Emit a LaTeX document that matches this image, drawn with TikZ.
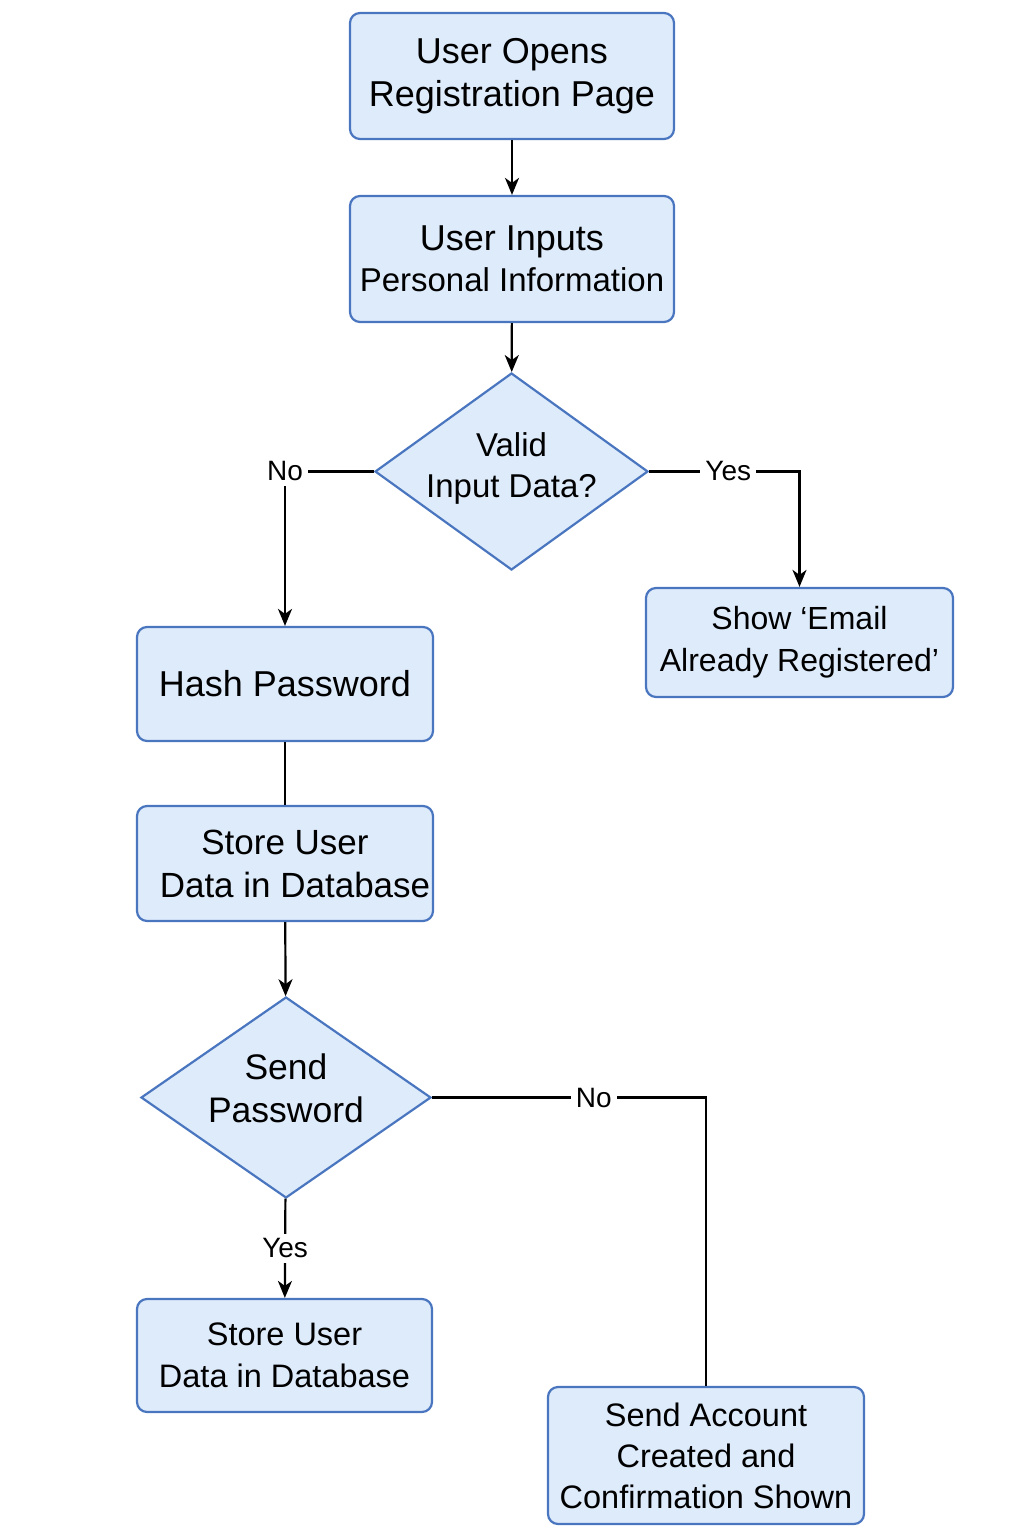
\documentclass[tikz,border=0pt]{standalone}
\usepackage{fontspec}
\setmainfont{Liberation Sans}
\usetikzlibrary{arrows.meta,shapes.geometric}
\definecolor{boxfill}{HTML}{DEEBFB}
\definecolor{boxline}{HTML}{4A76C0}
\newcommand{\fsz}[2]{\fontsize{#1}{#2}\selectfont}

\begin{document}
\begin{tikzpicture}[x=1pt,y=-1pt,
  box/.style={draw=boxline, fill=boxfill, line width=2.2pt, rounded corners=10pt, align=center, inner sep=0pt},
  decision/.style={draw=boxline, fill=boxfill, line width=2.2pt, diamond, inner sep=0pt},
  flow/.style={line width=2.2pt, -{Stealth[length=17pt,width=14pt,inset=5pt]}},
  link/.style={line width=2.2pt},
  lbl/.style={fill=white, font=\fsz{28}{32}, inner sep=5pt}]
\useasboundingbox (0,0) rectangle (1024,1536);
\node[box, minimum width=324, minimum height=126, font=\fsz{36}{43}] (open) at (512,76) {User Opens\\Registration Page};
\node[box, minimum width=324, minimum height=126, font=\fsz{36}{41}] (inputs) at (512,259) {User Inputs\\{\fsz{33}{41}Personal Information}};
\node[decision, minimum width=273, minimum height=197, label={[font=\fsz{33}{41}, align=center, yshift=3pt]center:{Valid\\Input Data?}}] (valid) at (511.5,471.5) {};
\node[box, minimum width=307, minimum height=109, font=\fsz{32}{42}] (email) at (799.5,642.5) {Show ‘Email\\Already Registered’};
\node[box, minimum width=296, minimum height=114, font=\fsz{36}{43}] (hash) at (285,684) {Hash Password};
\node[box, minimum width=296, minimum height=115, font=\fsz{35}{43}] (store) at (285,863.5) {Store User\\\hspace*{20pt}Data in Database};
\node[decision, minimum width=290, minimum height=201, label={[font=\fsz{35.5}{43}, align=center, yshift=9pt]center:{Send\\Password}}] (send) at (286,1097.5) {};
\node[box, minimum width=295, minimum height=113, font=\fsz{32.5}{42}] (saved) at (284.5,1355.5) {Store User\\Data in Database};
\node[box, minimum width=316, minimum height=137, font=\fsz{32.5}{41}] (account) at (706,1455.5) {Send Account\\Created and\\Confirmation Shown};
\draw[flow] (open) -- (inputs);
\draw[flow] (inputs) -- (valid);
\draw[flow] (valid.west) -| node[lbl]{No} (hash.north);
\draw[flow] (valid.east) -| node[lbl, pos=0.263]{Yes} (email.north);
\draw[link] (hash) -- (store);
\draw[flow] (store) -- (send);
\draw[flow] (send) -- node[lbl]{Yes} (saved);
\draw[link] (send.east) -| node[lbl, pos=0.295]{No} (account.north);
\end{tikzpicture}
\end{document}
